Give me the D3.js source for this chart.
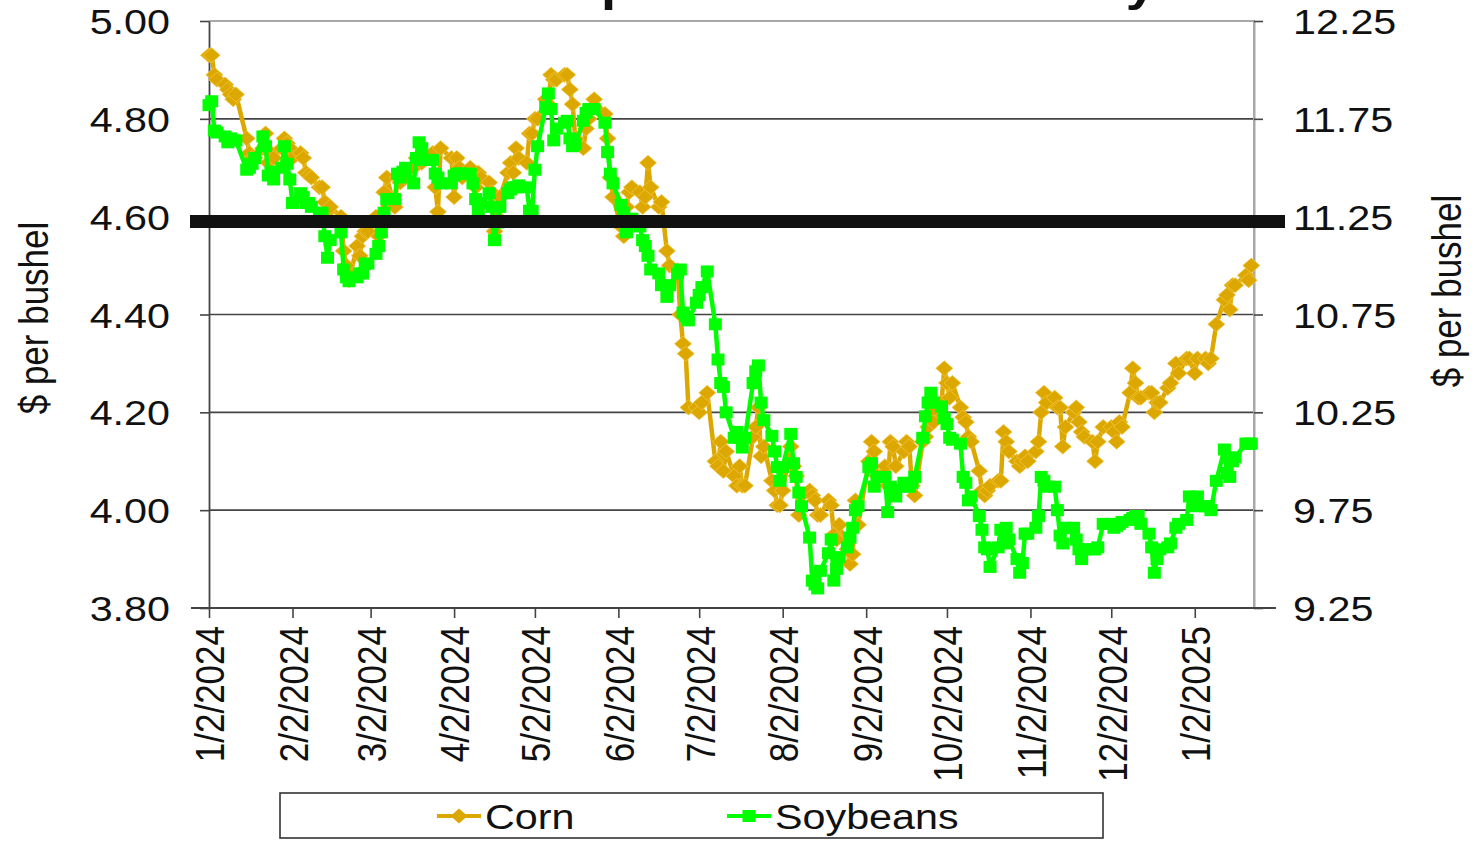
<!DOCTYPE html>
<html><head><meta charset="utf-8">
<script src="https://cdn.jsdelivr.net/npm/d3@7"></script>
<style>body{margin:0;background:#fff}svg{display:block}text{font-family:"Liberation Sans",Arial,sans-serif}</style>
</head><body>
<svg id="c" width="1474" height="841"></svg>
<script>
// ---------- data ----------
const startDay = "2024-01-02";
const lastDay = "2025-01-23";
const axisEnd = "2025-01-24";
const holidays = ["2024-01-15","2024-02-19","2024-03-29","2024-05-27","2024-06-19","2024-07-04",
  "2024-09-02","2024-11-28","2024-12-25","2025-01-01","2025-01-09","2025-01-20"];
const xTickLabels = ["1/2/2024","2/2/2024","3/2/2024","4/2/2024","5/2/2024","6/2/2024","7/2/2024",
  "8/2/2024","9/2/2024","10/2/2024","11/2/2024","12/2/2024","1/2/2025"];
const leftTicks = [3.80,4.00,4.20,4.40,4.60,4.80,5.00];
const rightTicks = [9.25,9.75,10.25,10.75,11.25,11.75,12.25];
const refLevel = 4.59;
const seriesNames = ["Corn","Soybeans"];
const titleText = "Cash prices in Illinois Daily";
const axisTitle = "$ per bushel";

const corn = [
 4.93,4.93,4.89,4.88,4.87,4.86,4.85,4.84,4.85,4.76,4.73,4.72,4.72,4.74,4.77,4.71,4.73,4.72,4.74,4.76,4.75,
 4.74,4.72,4.73,4.72,4.69,4.685,4.68,4.66,4.66,4.63,4.61,4.62,4.60,4.53,4.50,4.47,4.54,4.52,4.56,4.57,
 4.57,4.60,4.56,4.58,4.65,4.68,4.62,4.68,4.67,4.69,4.68,4.70,4.72,4.72,4.71,4.72,4.73,4.66,4.61,4.74,
 4.72,4.64,4.72,4.70,4.68,4.70,4.68,4.66,4.69,4.68,4.67,4.65,4.57,4.60,4.64,4.69,4.71,4.69,4.74,4.72,4.71,4.77,
 4.77,4.80,4.80,4.84,4.83,4.89,4.88,4.88,4.89,4.89,4.86,4.83,4.76,4.74,4.78,4.80,4.82,4.84,4.81,4.76,4.68,4.64,
 4.58,4.56,4.62,4.65,4.66,4.65,4.62,4.64,4.71,4.66,4.62,4.63,4.53,4.50,4.49,4.40,4.34,4.32,4.21,
 4.21,4.20,4.22,4.24,4.10,4.09,4.14,4.08,4.12,4.07,4.05,4.09,4.05,4.05,4.15,4.17,4.21,4.11,4.13,4.06,4.04,4.01,
 4.01,4.04,4.13,4.09,4.07,3.99,4.03,4.04,4.03,4.02,3.99,3.99,4.02,4.01,3.95,3.94,3.97,3.92,3.89,3.91,4.02,3.97,
 4.10,4.14,4.12,4.07,4.09,4.05,4.14,4.13,4.09,4.12,4.14,4.13,4.05,4.03,4.14,4.15,4.17,4.20,4.18,4.22,
 4.29,4.26,4.23,4.26,4.21,4.19,4.18,4.15,4.14,4.08,4.04,4.03,4.04,4.05,4.06,4.06,4.16,4.14,4.12,4.10,4.09,4.10,4.11,
 4.10,4.12,4.14,4.20,4.24,4.22,4.23,4.21,4.21,4.13,4.17,4.20,4.21,4.18,4.16,4.15,4.14,4.10,4.14,4.17,
 4.17,4.16,4.14,4.18,4.17,4.24,4.29,4.26,4.23,4.23,4.24,4.24,4.20,4.22,4.22,4.25,4.26,4.30,4.28,4.31,4.31,
 4.28,4.31,4.31,4.30,4.31,4.38,4.43,4.44,4.41,4.46,4.46,4.48,4.47,4.50
];
const soybeans = [
 11.82,11.84,11.69,11.68,11.66,11.63,11.65,11.64,11.64,11.49,11.50,11.52,11.55,11.66,11.61,11.46,11.48,11.44,11.50,11.61,11.52,
 11.44,11.32,11.37,11.35,11.32,11.32,11.30,11.27,11.27,11.15,11.04,11.13,11.17,10.98,10.94,10.92,10.94,10.96,10.96,11.01,
 11.01,11.06,11.10,11.17,11.27,11.34,11.34,11.47,11.45,11.48,11.50,11.42,11.55,11.63,11.60,11.54,11.54,11.47,11.45,11.42,
 11.42,11.46,11.47,11.47,11.47,11.47,11.42,11.34,11.28,11.32,11.37,11.30,11.13,11.22,11.30,11.37,11.39,11.40,11.40,11.41,11.40,11.28,
 11.28,11.49,11.61,11.81,11.88,11.80,11.64,11.70,11.73,11.74,11.65,11.61,11.62,11.74,11.78,11.80,11.80,11.80,11.73,11.58,11.47,11.42,
 11.31,11.27,11.17,11.22,11.24,11.20,11.13,11.10,11.05,10.98,10.96,10.90,10.84,10.90,10.96,10.98,10.76,10.74,10.72,
 10.81,10.85,10.89,10.97,10.70,10.52,10.40,10.38,10.25,10.12,10.15,10.12,10.07,10.12,10.40,10.46,10.49,10.30,10.21,10.13,10.05,9.97,
 9.90,9.97,10.14,9.99,9.92,9.84,9.77,9.61,9.39,9.37,9.35,9.44,9.53,9.60,9.39,9.45,9.51,9.56,9.61,9.66,9.75,9.77,
 9.97,9.99,9.87,9.92,9.92,9.74,9.87,9.85,9.82,9.89,9.87,9.87,9.89,9.92,10.12,10.23,10.30,10.35,10.30,10.28,
 10.22,10.19,10.12,10.11,10.09,9.92,9.89,9.80,9.82,9.72,9.65,9.56,9.55,9.46,9.56,9.65,9.58,9.66,9.60,9.50,9.43,9.48,9.63,
 9.63,9.66,9.72,9.92,9.90,9.87,9.87,9.75,9.62,9.58,9.66,9.66,9.60,9.55,9.50,9.55,9.55,9.55,9.56,9.68,
 9.68,9.66,9.67,9.68,9.69,9.70,9.71,9.72,9.72,9.68,9.63,9.56,9.43,9.50,9.55,9.56,9.58,9.66,9.68,9.70,9.82,
 9.77,9.82,9.77,9.77,9.75,9.90,10.06,9.94,9.92,10.00,10.02,10.09,10.09,10.09
];

// ---------- setup ----------
const parse = d3.timeParse("%Y-%m-%d");
const fmt = d3.timeFormat("%Y-%m-%d");
const hol = new Set(holidays);
const dates = [];
for (let d = parse(startDay); d <= parse(lastDay); d = d3.timeDay.offset(d, 1)) {
  const wd = d.getDay();
  if (wd === 0 || wd === 6 || hol.has(fmt(d))) continue;
  dates.push(d);
}
if (dates.length !== corn.length || dates.length !== soybeans.length)
  console.error("length mismatch", dates.length, corn.length, soybeans.length);

const L = 209, R = 1254, T = 21, B = 608;
const SX = 1.18; // horizontal stretch of the source picture
const cornColor = "#DCA800", soyColor = "#00FF00";
const x = d3.scaleTime().domain([parse(startDay), parse(axisEnd)]).range([L, R]);
const yL = d3.scaleLinear().domain([3.8, 5.0]).range([B, T]);
const yR = d3.scaleLinear().domain([9.25, 12.25]).range([B, T]);

const svg = d3.select("#c");
svg.append("rect").attr("width", 1474).attr("height", 841).attr("fill", "#fff");

// title (cut off at the top edge in the source: only descenders show)
const title = svg.append("g").attr("transform", `translate(0,0) scale(${SX},1)`)
  .append("text").attr("font-size", 46).attr("font-weight", "bold").attr("fill", "#111")
  .text(titleText);
{
  const pi = titleText.indexOf("p");
  const pre = pi > 0 ? title.node().getSubStringLength(0, pi) : 0;
  title.attr("x", 601 / SX - pre);
}

// gridlines
svg.append("g").selectAll("line").data(leftTicks.filter(v => v > 3.8 && v < 5.0)).join("line")
  .attr("x1", L).attr("x2", R).attr("y1", d => yL(d)).attr("y2", d => yL(d))
  .attr("stroke", "#444").attr("stroke-width", 1.7);
// plot border top/right
svg.append("path").attr("d", `M${L},${yL(5)}H${R}V${B}`).attr("fill", "none")
  .attr("stroke", "#a8a8a8").attr("stroke-width", 2);

function styleAxis(g) {
  g.select(".domain").attr("stroke", "#444").attr("stroke-width", 1.8);
  g.selectAll(".tick line").attr("stroke", "#444").attr("stroke-width", 1.6);
}
// left axis
const gl = svg.append("g").attr("transform", `translate(${L},0)`)
  .call(d3.axisLeft(yL).tickValues(leftTicks).tickSize(9).tickSizeOuter(0).tickFormat(d3.format(".2f")));
styleAxis(gl);
gl.selectAll(".tick text").attr("x", 0).attr("dy", "0.36em").attr("font-size", 35).attr("fill", "#111")
  .attr("font-family", "Liberation Sans, Arial, sans-serif").attr("text-anchor", "end")
  .attr("transform", `translate(-39,0) scale(${SX},1)`);
// right axis
const gr = svg.append("g").attr("transform", `translate(${R},0)`)
  .call(d3.axisRight(yR).tickValues(rightTicks).tickSize(9).tickSizeOuter(0).tickFormat(d3.format(".2f")));
styleAxis(gr);
gr.select(".domain").attr("stroke", "#a8a8a8").attr("stroke-width", 2);
gr.selectAll(".tick text").attr("x", 0).attr("dy", "0.36em").attr("font-size", 35).attr("fill", "#111")
  .attr("font-family", "Liberation Sans, Arial, sans-serif").attr("text-anchor", "start")
  .attr("transform", `translate(39,0) scale(${SX},1)`);
// bottom axis
const tickDates = xTickLabels.map(s => d3.timeParse("%m/%d/%Y")(s));
const gb = svg.append("g").attr("transform", `translate(0,${B})`)
  .call(d3.axisBottom(x).tickValues(tickDates).tickSize(10).tickSizeOuter(0)
    .tickFormat((d, i) => xTickLabels[i]));
styleAxis(gb);
gb.select(".domain").attr("d", `M${L - 18},0H${R + 22}`);
gb.selectAll(".tick text").attr("x", 0).attr("y", 0).attr("dy", "0.36em").attr("font-size", 35)
  .attr("fill", "#111").attr("font-family", "Liberation Sans, Arial, sans-serif")
  .attr("text-anchor", "end").attr("transform", `translate(0,18) scale(${SX},1) rotate(-90)`);

// axis titles
function vTitle(cx, cy) {
  svg.append("text").attr("transform", `translate(${cx},${cy}) scale(${SX},1) rotate(-90)`)
    .attr("text-anchor", "middle").attr("dy", "0.36em").attr("font-size", 35).attr("fill", "#111")
    .text(axisTitle);
}
vTitle(33, 318);
vTitle(1446, 291);

// series
const diamond = `M0,-7.5L8.5,0L0,7.5L-8.5,0Z`;
const square = `M-6.5,-6H6.5V6H-6.5Z`;
const cornData = dates.map((d, i) => ({ d, v: corn[i] }));
const soyData = dates.map((d, i) => ({ d, v: soybeans[i] }));
const lineC = d3.line().x(p => x(p.d)).y(p => yL(p.v));
const lineS = d3.line().x(p => x(p.d)).y(p => yR(p.v));
svg.append("path").attr("d", lineC(cornData)).attr("fill", "none").attr("stroke", cornColor)
  .attr("stroke-width", 4.5).attr("stroke-linejoin", "round");
svg.append("g").selectAll("path").data(cornData).join("path")
  .attr("transform", p => `translate(${x(p.d)},${yL(p.v)})`).attr("d", diamond)
  .attr("fill", cornColor).attr("stroke", "#f2c440").attr("stroke-width", 0.8);
svg.append("path").attr("d", lineS(soyData)).attr("fill", "none").attr("stroke", soyColor)
  .attr("stroke-width", 4.5).attr("stroke-linejoin", "round");
svg.append("g").selectAll("path").data(soyData).join("path")
  .attr("transform", p => `translate(${x(p.d)},${yR(p.v)})`).attr("d", square)
  .attr("fill", soyColor);

// reference bar
svg.append("line").attr("x1", 190).attr("x2", 1285).attr("y1", yL(refLevel)).attr("y2", yL(refLevel))
  .attr("stroke", "#111").attr("stroke-width", 13);

// legend
const lg = svg.append("g");
lg.append("rect").attr("x", 280).attr("y", 793).attr("width", 823).attr("height", 45)
  .attr("fill", "#fff").attr("stroke", "#333").attr("stroke-width", 1.6);
const legendItems = [
  { name: seriesNames[0], color: cornColor, shape: diamond, x0: 437 },
  { name: seriesNames[1], color: soyColor, shape: square, x0: 727 }
];
legendItems.forEach(it => {
  lg.append("line").attr("x1", it.x0).attr("x2", it.x0 + 44).attr("y1", 816).attr("y2", 816)
    .attr("stroke", it.color).attr("stroke-width", 4);
  lg.append("path").attr("d", it.shape).attr("transform", `translate(${it.x0 + 22},816)`).attr("fill", it.color);
  lg.append("text").attr("transform", `translate(${it.x0 + 48},816) scale(${SX},1)`).attr("dy", "0.36em")
    .attr("font-size", 35).attr("fill", "#111").text(it.name);
});
</script>
</body></html>
